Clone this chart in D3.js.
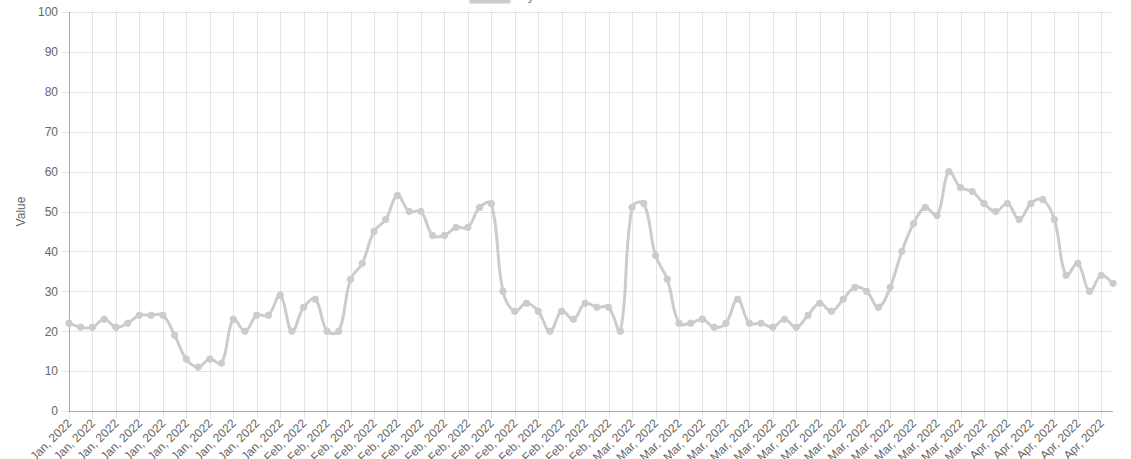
<!DOCTYPE html>
<html>
<head>
<meta charset="utf-8">
<script src="https://cdn.jsdelivr.net/npm/d3@7"></script>
<style>
  html, body { margin: 0; padding: 0; background: #fff; overflow: hidden; }
  svg { display: block; }
  text { font-family: "Liberation Sans", Arial, Helvetica, sans-serif; }
</style>
</head>
<body>
<svg id="chart" width="1131" height="459"></svg>
<script>
// ---- data ----
const startDate = "2022-01-12";
const seriesName = "Systolic Blood Pressure";
const values = [
  22, 21, 21, 23, 21, 22, 24, 24, 24, 19,
  13, 11, 13, 12, 23, 20, 24, 24, 29, 20,
  26, 28, 20, 20, 33, 37, 45, 48, 54, 50,
  50, 44, 44, 46, 46, 51, 52, 30, 25, 27,
  25, 20, 25, 23, 27, 26, 26, 20, 51, 52,
  39, 33, 22, 22, 23, 21, 22, 28, 22, 22,
  21, 23, 21, 24, 27, 25, 28, 31, 30, 26,
  31, 40, 47, 51, 49, 60, 56, 55, 52, 50,
  52, 48, 52, 53, 48, 34, 37, 30, 34, 32
];
const yTicks = [0, 10, 20, 30, 40, 50, 60, 70, 80, 90, 100];
const yTitle = "Value";

(function () {
// ---- layout ----
const pLeft = 69, pRight = 1113, pTop = 12, pBottom = 411;
const lineColor = "rgb(203,204,206)";
const textColor = "#666";

const parse = d3.timeParse("%Y-%m-%d");
const d0 = parse(startDate);
const dates = values.map((v, i) => d3.timeDay.offset(d0, i));
const data = values.map((v, i) => ({ date: dates[i], value: v }));

const svg = d3.select("#chart");

const x = d3.scaleTime().domain([dates[0], dates[dates.length - 1]]).range([pLeft, pRight]);
const y = d3.scaleLinear().domain([0, 100]).range([pBottom, pTop]);

const xTickDates = dates.filter((d, i) => i % 2 === 0);
const fmt = d3.timeFormat("%b, %Y");

// horizontal grid + y axis
const yAxis = d3.axisLeft(y).tickValues(yTicks).tickSize(pRight - pLeft + 7).tickPadding(4);
const gy = svg.append("g").attr("transform", `translate(${pRight},0)`).call(yAxis);
gy.select(".domain").remove();
gy.selectAll(".tick line").attr("stroke", "rgba(0,0,0,0.1)").attr("shape-rendering", "crispEdges");
gy.selectAll(".tick text").attr("fill", textColor).attr("font-size", 12)
  .attr("font-family", "Liberation Sans, Arial, sans-serif");

// vertical grid + x axis
const xAxis = d3.axisBottom(x).tickValues(xTickDates).tickFormat(fmt).tickSizeOuter(0);
const gx = svg.append("g").attr("transform", `translate(0,${pBottom})`).call(xAxis);
gx.select(".domain").remove();
gx.selectAll(".tick line").attr("stroke", "rgba(0,0,0,0.1)").attr("y2", -(pBottom - pTop)).attr("y1", 8)
  .attr("shape-rendering", "crispEdges");
gx.selectAll(".tick text")
  .attr("fill", textColor).attr("font-size", 12)
  .attr("font-family", "Liberation Sans, Arial, sans-serif")
  .attr("text-anchor", "end")
  .attr("dy", null).attr("y", 0)
  .attr("transform", "translate(3,13) rotate(-45)");

// axis lines
svg.append("line").attr("x1", pLeft).attr("x2", pLeft).attr("y1", pTop).attr("y2", pBottom)
  .attr("stroke", "rgba(0,0,0,0.25)").attr("shape-rendering", "crispEdges");
svg.append("line").attr("x1", pLeft).attr("x2", pRight).attr("y1", pBottom).attr("y2", pBottom)
  .attr("stroke", "rgba(0,0,0,0.25)").attr("shape-rendering", "crispEdges");

// y title
svg.append("text").attr("transform", `translate(25,${(pTop + pBottom) / 2}) rotate(-90)`)
  .attr("text-anchor", "middle").attr("fill", textColor).attr("font-size", 12).text(yTitle);

// Chart.js-style spline (tension 0.4)
const pts = data.map(d => [x(d.date), y(d.value)]);
const t = 0.4;
const cps = pts.map((p, i) => {
  const prev = pts[Math.max(0, i - 1)], next = pts[Math.min(pts.length - 1, i + 1)];
  const d01 = Math.hypot(p[0] - prev[0], p[1] - prev[1]);
  const d12 = Math.hypot(next[0] - p[0], next[1] - p[1]);
  let s01 = d01 / (d01 + d12), s12 = d12 / (d01 + d12);
  if (!isFinite(s01)) s01 = 0; if (!isFinite(s12)) s12 = 0;
  const fa = t * s01, fb = t * s12;
  const cp1 = [p[0] - fa * (next[0] - prev[0]), p[1] - fa * (next[1] - prev[1])];
  const cp2 = [p[0] + fb * (next[0] - prev[0]), p[1] + fb * (next[1] - prev[1])];
  const clampY = v => Math.max(pTop, Math.min(pBottom, v));
  cp1[1] = clampY(cp1[1]); cp2[1] = clampY(cp2[1]);
  return { prev: cp1, next: cp2 };
});
const path = d3.path();
path.moveTo(pts[0][0], pts[0][1]);
for (let i = 1; i < pts.length; i++) {
  const a = cps[i - 1].next, b = cps[i].prev;
  path.bezierCurveTo(a[0], a[1], b[0], b[1], pts[i][0], pts[i][1]);
}
svg.append("path").attr("d", path.toString()).attr("fill", "none")
  .attr("stroke", lineColor).attr("stroke-width", 3).attr("stroke-linejoin", "round");

svg.append("g").selectAll("circle").data(data).join("circle")
  .attr("cx", d => x(d.date)).attr("cy", d => y(d.value)).attr("r", 3.2)
  .attr("fill", lineColor).attr("stroke", lineColor).attr("stroke-width", 1);

// legend (cut off at top)
const lg = svg.append("g");
lg.append("rect").attr("x", 470).attr("y", -9).attr("width", 40).attr("height", 12)
  .attr("fill", lineColor).attr("stroke", lineColor).attr("stroke-width", 1);
lg.append("text").attr("x", 520).attr("y", 0).attr("fill", textColor).attr("font-size", 12).text(seriesName);
})();
</script>
</body>
</html>
